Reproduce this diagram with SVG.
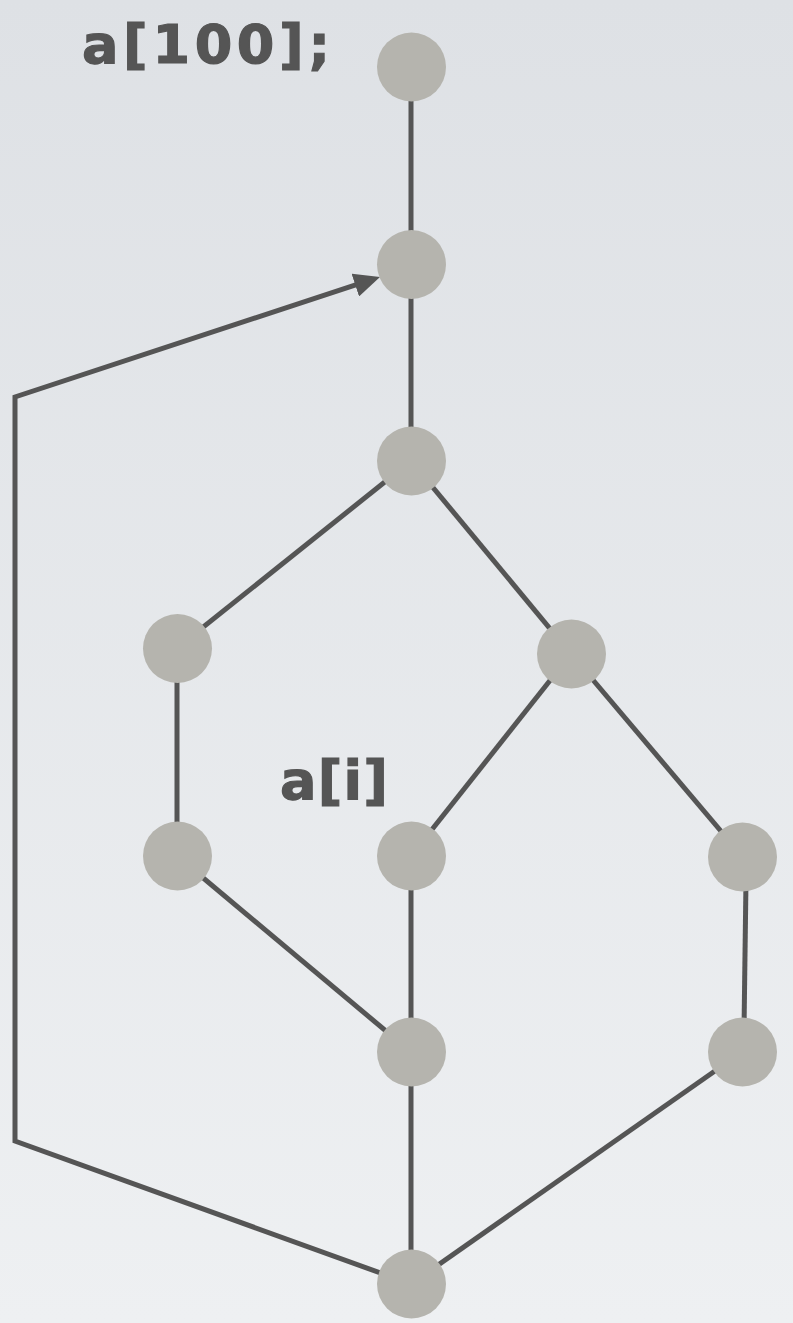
<svg xmlns="http://www.w3.org/2000/svg" width="793" height="1323" viewBox="0 0 793 1323">
  <defs>
    <linearGradient id="bg" x1="0" y1="0" x2="0" y2="1">
      <stop offset="0" stop-color="#dee1e5"/>
      <stop offset="1" stop-color="#eef0f2"/>
    </linearGradient>
    <marker id="arrow" viewBox="0 0 26 24" refX="14" refY="12" markerWidth="26" markerHeight="24" markerUnits="userSpaceOnUse" orient="auto">
      <path d="M0,0 L26,12 L0,24 z" fill="#555555"/>
    </marker>
  </defs>
  <style>
    .edge { stroke: #555555; stroke-width: 5; fill: none; }
    .node circle { fill: #b5b4ae; }
    .label { font-family: "DejaVu Sans", "Liberation Sans", sans-serif; font-weight: bold; font-size: 54px; fill: #555555; stroke: #555555; stroke-width: 1.2; }
  </style>

  <rect width="793" height="1323" fill="url(#bg)"/>

  <!-- connectors -->
  <g id="connectors">
    <line class="edge" x1="411" y1="67" x2="411" y2="264"/>
    <line class="edge" x1="411" y1="264" x2="411" y2="461"/>
    <line class="edge" x1="411" y1="461" x2="177" y2="648"/>
    <line class="edge" x1="411" y1="461" x2="571" y2="654"/>
    <line class="edge" x1="177" y1="648" x2="177" y2="856"/>
    <line class="edge" x1="571" y1="654" x2="411" y2="856"/>
    <line class="edge" x1="571" y1="654" x2="742" y2="856"/>
    <line class="edge" x1="177" y1="856" x2="411" y2="1052"/>
    <line class="edge" x1="411" y1="856" x2="411" y2="1052"/>
    <line class="edge" x1="746" y1="880" x2="744" y2="1030"/>
    <line class="edge" x1="411" y1="1052" x2="411" y2="1284"/>
    <line class="edge" x1="742" y1="1052" x2="411" y2="1284"/>
    <!-- back edge looping round the left side -->
    <path class="edge" d="M411,1284 L15,1141 L15,397 L368.6,280.7" marker-end="url(#arrow)"/>
  </g>

  <!-- nodes -->
  <g id="n1" class="node"><circle cx="411.5" cy="67" r="34.5"/></g>
  <g id="n2" class="node"><circle cx="411.5" cy="264.5" r="34.5"/></g>
  <g id="n3" class="node"><circle cx="411.5" cy="461" r="34.5"/></g>
  <g id="n4" class="node"><circle cx="177.5" cy="648.5" r="34.5"/></g>
  <g id="n5" class="node"><circle cx="571.5" cy="654" r="34.5"/></g>
  <g id="n6" class="node"><circle cx="177.5" cy="856" r="34.5"/></g>
  <g id="n7" class="node"><circle cx="411.5" cy="856" r="34.5"/></g>
  <g id="n8" class="node"><circle cx="742.5" cy="857" r="34.5"/></g>
  <g id="n9" class="node"><circle cx="411.5" cy="1052" r="34.5"/></g>
  <g id="n10" class="node"><circle cx="742.5" cy="1052" r="34.5"/></g>
  <g id="n11" class="node"><circle cx="411.5" cy="1284" r="34.5"/></g>

  <!-- labels -->
  <g id="label-decl"><text class="label" x="82" y="63" textLength="248" lengthAdjust="spacing">a[100];</text></g>
  <g id="label-access"><text class="label" x="280" y="799" textLength="108" lengthAdjust="spacing">a[i]</text></g>
</svg>
